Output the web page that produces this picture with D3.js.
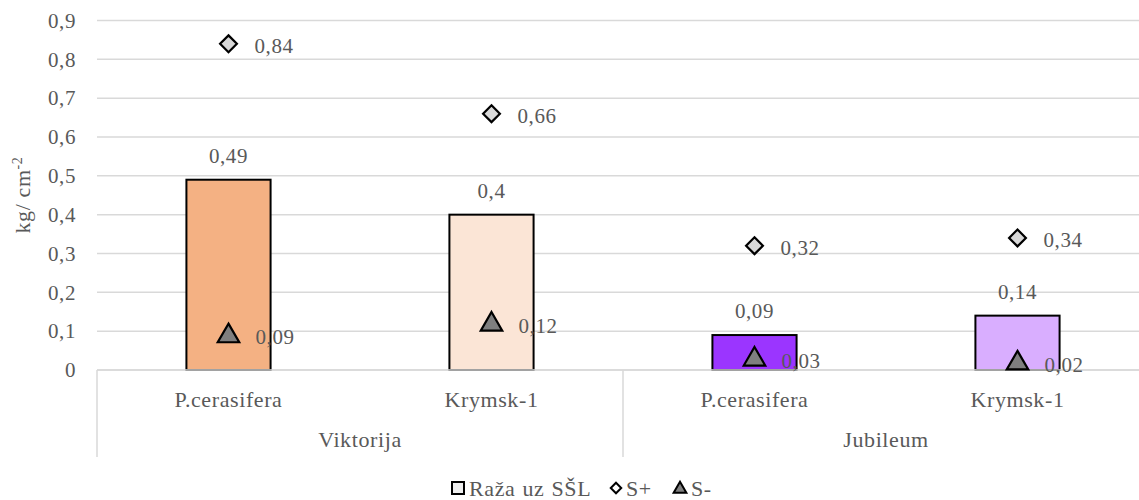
<!DOCTYPE html>
<html>
<head>
<meta charset="utf-8">
<script src="https://cdn.jsdelivr.net/npm/d3@7/dist/d3.min.js"></script>
<style>
  html, body { margin: 0; padding: 0; background: #fff; }
  svg { display: block; }
  svg text { font-family: "Liberation Serif", "DejaVu Serif", serif !important; fill: #595959; letter-spacing: 0.6px; }
</style>
</head>
<body>
<svg id="chart" width="1139" height="500"></svg>
<script>
// Cultivars (outer axis level) and rootstocks (inner axis level)
const groups = ["Viktorija", "Jubileum"];
const rootstocks = ["P.cerasifera", "Krymsk-1", "P.cerasifera", "Krymsk-1"];
const groupOf = [0, 0, 1, 1];

// Series values, kg/cm²
const raza = [0.49, 0.4, 0.09, 0.14];
const sPlus = [0.84, 0.66, 0.32, 0.34];
const sMinus = [0.09, 0.12, 0.03, 0.02];

const barColors = ["#F4B183", "#FBE5D6", "#9B35FF", "#D9AEFF"];
const yTicks = [0, 0.1, 0.2, 0.3, 0.4, 0.5, 0.6, 0.7, 0.8, 0.9];
const legendLabels = ["Raža uz SŠL", "S+", "S-"];

const fmt = v => String(v).replace(".", ",");
const FS = 21;   // numbers
const FL = 22;   // category and legend labels

const svg = d3.select("#chart");
const plotLeft = 97, plotRight = 1149, plotTop = 20.5, plotBottom = 370;

const idx = d3.range(raza.length);
const x = d3.scaleBand().domain(idx).range([plotLeft, plotRight]).padding(0);
const y = d3.scaleLinear().domain([0, 0.9]).range([plotBottom, plotTop]);
const barW = x.bandwidth() * 0.32;
const cx = i => x(i) + x.bandwidth() / 2;

// horizontal gridlines
svg.append("g").selectAll("line").data(yTicks).join("line")
  .attr("x1", plotLeft).attr("x2", plotRight)
  .attr("y1", d => y(d)).attr("y2", d => y(d))
  .attr("stroke", "#d9d9d9").attr("stroke-width", 1.5);

// y axis tick labels
const yAxis = d3.axisLeft(y).tickValues(yTicks).tickFormat(fmt).tickSize(0).tickPadding(0);
const gy = svg.append("g").attr("transform", "translate(76,0)").call(yAxis);
gy.select(".domain").remove();
gy.attr("font-family", null).attr("font-size", null);
gy.selectAll("text").attr("font-size", FS).attr("dy", "0.32em");

// y axis title
const yt = svg.append("text")
  .attr("transform", "translate(30,195) rotate(-90)")
  .attr("text-anchor", "middle").attr("font-size", FL);
yt.append("tspan").text("kg/ cm");
yt.append("tspan").text("-2").attr("font-size", 14).attr("dy", -8);

// bars
svg.append("g").selectAll("rect").data(idx).join("rect")
  .attr("x", i => cx(i) - barW / 2)
  .attr("y", i => y(raza[i]))
  .attr("width", barW)
  .attr("height", i => y(0) - y(raza[i]))
  .attr("fill", i => barColors[i])
  .attr("stroke", "#000").attr("stroke-width", 2);

// bar value labels
svg.append("g").selectAll("text").data(idx).join("text")
  .attr("x", cx).attr("y", i => y(raza[i]) - 17)
  .attr("text-anchor", "middle").attr("font-size", FS)
  .text(i => fmt(raza[i]));

// category axis: baseline, separators
const axisG = svg.append("g");
axisG.append("line").attr("x1", plotLeft).attr("x2", plotRight)
  .attr("y1", plotBottom).attr("y2", plotBottom)
  .attr("stroke", "#d9d9d9").attr("stroke-width", 1.5);
const seps = [plotLeft, x(2)];
axisG.selectAll(".sep").data(seps).join("line").attr("class", "sep")
  .attr("x1", d => d).attr("x2", d => d)
  .attr("y1", plotBottom).attr("y2", 457)
  .attr("stroke", "#d9d9d9").attr("stroke-width", 1.5);

axisG.selectAll(".cat").data(idx).join("text").attr("class", "cat")
  .attr("x", cx).attr("y", 407)
  .attr("text-anchor", "middle").attr("font-size", FL)
  .text(i => rootstocks[i]);

axisG.selectAll(".grp").data(groups).join("text").attr("class", "grp")
  .attr("x", (g, gi) => {
    const members = idx.filter(i => groupOf[i] === gi);
    return (x(members[0]) + x(members[members.length - 1]) + x.bandwidth()) / 2;
  })
  .attr("y", 447)
  .attr("text-anchor", "middle").attr("font-size", FL)
  .text(g => g);

// markers
const diamond = d3.symbol().type(d3.symbolDiamond2).size(180);
const triangle = d3.symbol().type(d3.symbolTriangle).size(200);

const mk = svg.append("g");
mk.selectAll(".sp").data(idx).join("path").attr("class", "sp")
  .attr("d", diamond)
  .attr("transform", i => `translate(${cx(i)},${y(sPlus[i])})`)
  .attr("fill", "#d9d9d9").attr("stroke", "#000").attr("stroke-width", 2.2);
mk.selectAll(".sm").data(idx).join("path").attr("class", "sm")
  .attr("d", triangle)
  .attr("transform", i => `translate(${cx(i)},${y(sMinus[i]) + 1})`)
  .attr("fill", "#7f7f7f").attr("stroke", "#000").attr("stroke-width", 2.2);

mk.selectAll(".spl").data(idx).join("text").attr("class", "spl")
  .attr("x", i => cx(i) + 26).attr("y", i => y(sPlus[i]) + 2)
  .attr("dy", "0.35em").attr("font-size", FS)
  .text(i => fmt(sPlus[i]));
mk.selectAll(".sml").data(idx).join("text").attr("class", "sml")
  .attr("x", i => cx(i) + 27).attr("y", i => y(sMinus[i]) + 2)
  .attr("dy", "0.35em").attr("font-size", FS)
  .text(i => fmt(sMinus[i]));

// legend
const lg = svg.append("g").attr("transform", "translate(0,488)");
lg.append("rect").attr("x", 452).attr("y", -6).attr("width", 12).attr("height", 12)
  .attr("fill", "#eeeeee").attr("stroke", "#000").attr("stroke-width", 2);
lg.append("text").attr("x", 469).attr("y", 0).attr("dy", "0.35em").attr("font-size", FL)
  .attr("word-spacing", 1).text(legendLabels[0]);
lg.append("path").attr("d", d3.symbol().type(d3.symbolDiamond2).size(70))
  .attr("transform", "translate(616,0)")
  .attr("fill", "#fff").attr("stroke", "#000").attr("stroke-width", 2);
lg.append("text").attr("x", 626).attr("y", 0).attr("dy", "0.35em").attr("font-size", FL).text(legendLabels[1]);
lg.append("path").attr("d", d3.symbol().type(d3.symbolTriangle).size(70))
  .attr("transform", "translate(680,1)")
  .attr("fill", "#7f7f7f").attr("stroke", "#000").attr("stroke-width", 2);
lg.append("text").attr("x", 691).attr("y", 0).attr("dy", "0.35em").attr("font-size", FL).text(legendLabels[2]);
</script>
</body>
</html>
